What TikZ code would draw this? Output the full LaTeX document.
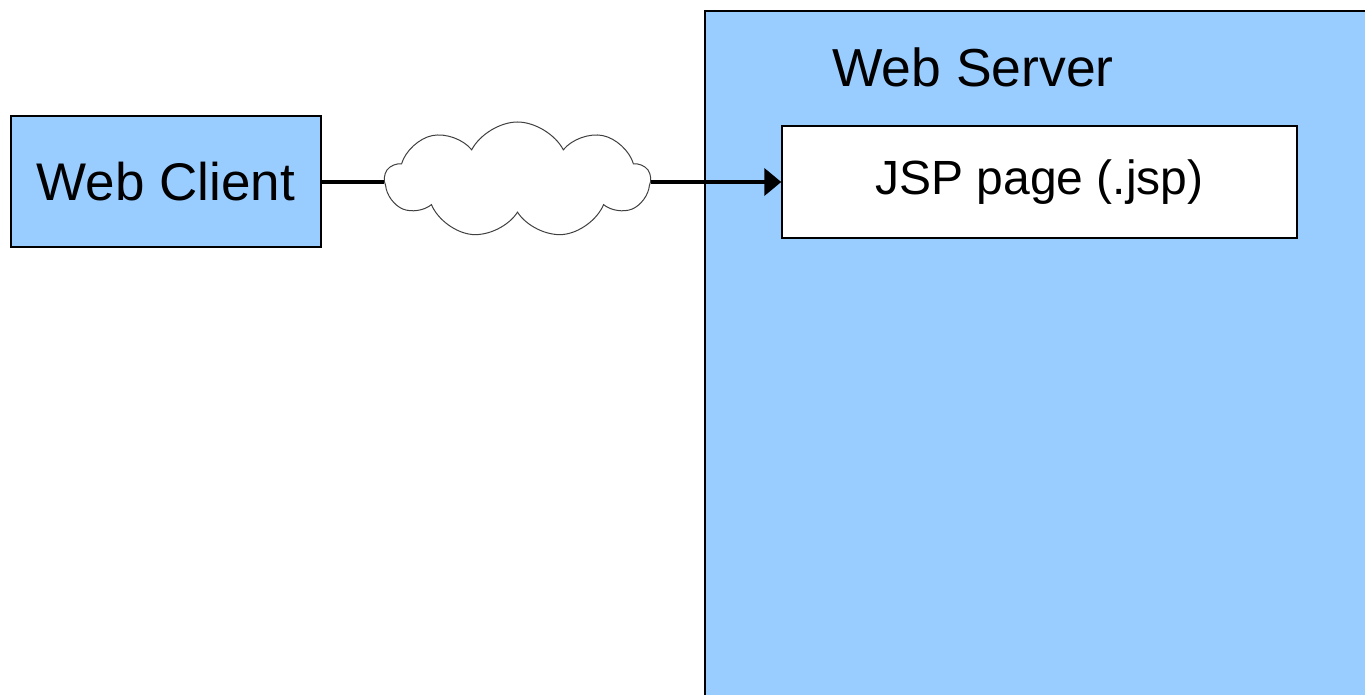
\documentclass[tikz,border=0pt]{standalone}
\usepackage{fontspec}
\setmainfont{Liberation Sans}
\usetikzlibrary{shapes.symbols,arrows.meta}
\definecolor{boxblue}{HTML}{99CCFF}
\begin{document}
\begin{tikzpicture}[x=1pt,y=-1pt,
  bluebox/.style={draw=black,line width=1.5pt,fill=boxblue},
  whitebox/.style={draw=black,line width=1.5pt,fill=white},
  link/.style={line width=4.5pt}]
\useasboundingbox (0,0) rectangle (1365,695);
\fill[white] (0,0) rectangle (1365,695);
% Web Server container
\path[bluebox] (705,11) rectangle (1375,705);
\node[font=\fontsize{53.5}{60}\selectfont] (srvlabel) at (973,67) {Web Server};
% Web Client
\node[bluebox,minimum width=310pt,minimum height=131pt,inner sep=0pt,
      font=\fontsize{53}{60}\selectfont] (client) at (166,181.5) {Web Client};
% JSP page
\node[whitebox,minimum width=515pt,minimum height=112pt,inner sep=0pt,
      font=\fontsize{48}{56}\selectfont] (jsp) at (1039.5,182) {JSP page (.jsp)};
% Cloud
\node[cloud,draw=black!75,line width=1pt,fill=white,cloud puffs=9,cloud puff arc=125,
      aspect=2.3,minimum width=265pt,minimum height=116pt,inner sep=0pt] (net) at (517.5,180) {};
% connectors
\draw[link] (client.east |- 0,182) -- (net.west |- 0,182);
\draw[link,-{Triangle[length=17pt,width=27pt]}] (net.east |- 0,182) -- (jsp.west |- 0,182);
\end{tikzpicture}
\end{document}
